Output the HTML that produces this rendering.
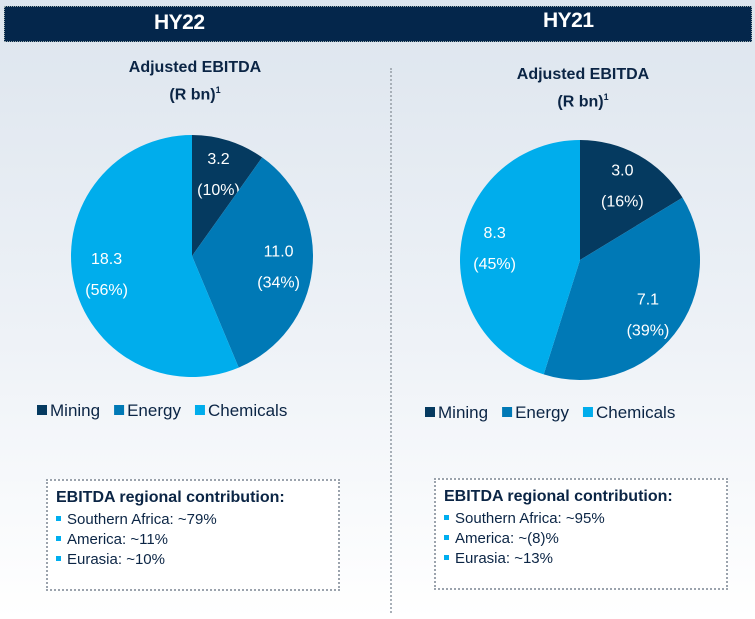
<!DOCTYPE html>
<html><head><meta charset="utf-8"><style>
body{margin:0;width:755px;height:619px;overflow:hidden;font-family:"Liberation Sans",sans-serif;}
#bg{position:absolute;left:0;top:0;width:755px;height:619px;background:linear-gradient(#dde5ee 0%,#eef2f7 55%,#fff 100%);}
#hdr{position:absolute;left:4px;top:6px;width:746px;height:34px;background:#04264b;border:1px dotted #9aa;}
.ht{position:absolute;color:#fff;font-weight:bold;font-size:21px;top:11px;letter-spacing:-0.5px;}
.tt{position:absolute;color:#0b2545;font-weight:bold;font-size:16px;text-align:center;width:240px;line-height:22px;}
.box{position:absolute;width:290px;height:108px;border:2px dotted #9ba3ad;background:#fff;color:#0b2545;font-size:15px;}
.box b{display:block;margin:8px 0 3px 8px;font-size:16px;}
.box div{margin-left:8px;line-height:20px;}
.box div:before{content:"";display:inline-block;width:5px;height:5px;background:#00aeef;margin-right:6px;vertical-align:3px;}
</style></head><body>
<div id="bg"></div>
<div id="hdr"></div>
<div class="ht" style="left:154px">HY22</div>
<div class="ht" style="left:543px;top:9px">HY21</div>
<div class="tt" style="left:75px;top:57px">Adjusted EBITDA<br>(R bn)<sup style="font-size:9px">1</sup></div>
<div class="tt" style="left:463px;top:64px">Adjusted EBITDA<br>(R bn)<sup style="font-size:9px">1</sup></div>
<div style="position:absolute;left:390px;top:68px;height:545px;border-left:2px dotted #a8b0b8"></div>
<svg id="chart" width="755" height="619" style="position:absolute;left:0;top:0"></svg>
<div class="box" style="left:46px;top:479px"><b>EBITDA regional contribution:</b><div>Southern Africa: ~79%</div><div>America: ~11%</div><div>Eurasia: ~10%</div></div>
<div class="box" style="left:434px;top:478px"><b>EBITDA regional contribution:</b><div>Southern Africa: ~95%</div><div>America: ~(8)%</div><div>Eurasia: ~13%</div></div>
<script>
const categories=["Mining","Energy","Chemicals"];
const hy22Values=[3.2,11.0,18.3];
const hy22Pct=["(10%)","(34%)","(56%)"];
const hy21Values=[3.0,7.1,8.3];
const hy21Pct=["(16%)","(39%)","(45%)"];
const colors=["#053a60","#0079b6","#00adec"];
const NS="http://www.w3.org/2000/svg";
const svg=document.getElementById('chart');
function mk(t,a){const e=document.createElementNS(NS,t);for(const k in a)e.setAttribute(k,a[k]);svg.appendChild(e);return e;}
function pie(cx,cy,r,vals,pcts,name,lx,ly){
  const tot=vals.reduce((a,b)=>a+b,0);let a0=0;
  vals.forEach((v,i)=>{
    const a1=a0+v/tot*2*Math.PI;
    const p=(a)=>[cx+r*Math.sin(a),cy-r*Math.cos(a)];
    const [x0,y0]=p(a0),[x1,y1]=p(a1);
    const s=mk('path',{d:`M${cx},${cy}L${x0},${y0}A${r},${r} 0 ${a1-a0>Math.PI?1:0} 1 ${x1},${y1}Z`,fill:colors[i]});
    
    
    const am=(a0+a1)/2,k=0.72;
    const tx=cx+r*k*Math.sin(am),ty=cy-r*k*Math.cos(am);
    const t1=mk('text',{x:tx,y:ty-9,fill:'#fff','font-size':16,'text-anchor':'middle'});t1.textContent=v.toFixed(1);
    
    
    const t2=mk('text',{x:tx,y:ty+22,fill:'#fff','font-size':16,'text-anchor':'middle'});t2.textContent=pcts[i];
    
    
    a0=a1;
  });
  let x=lx;
  categories.forEach((c,i)=>{
    const r1=mk('rect',{x:x,y:ly-11,width:10,height:10,fill:colors[i]});
    
    
    const t=mk('text',{x:x+13,y:ly,fill:'#0b2545','font-size':17});t.textContent=c;
    
    
    x+=13+t.getComputedTextLength()+14;
  });
}
pie(192,256,121,hy22Values,hy22Pct,'hy22',37,416);
pie(580,260,120,hy21Values,hy21Pct,'hy21',425,418);
</script>
</body></html>
